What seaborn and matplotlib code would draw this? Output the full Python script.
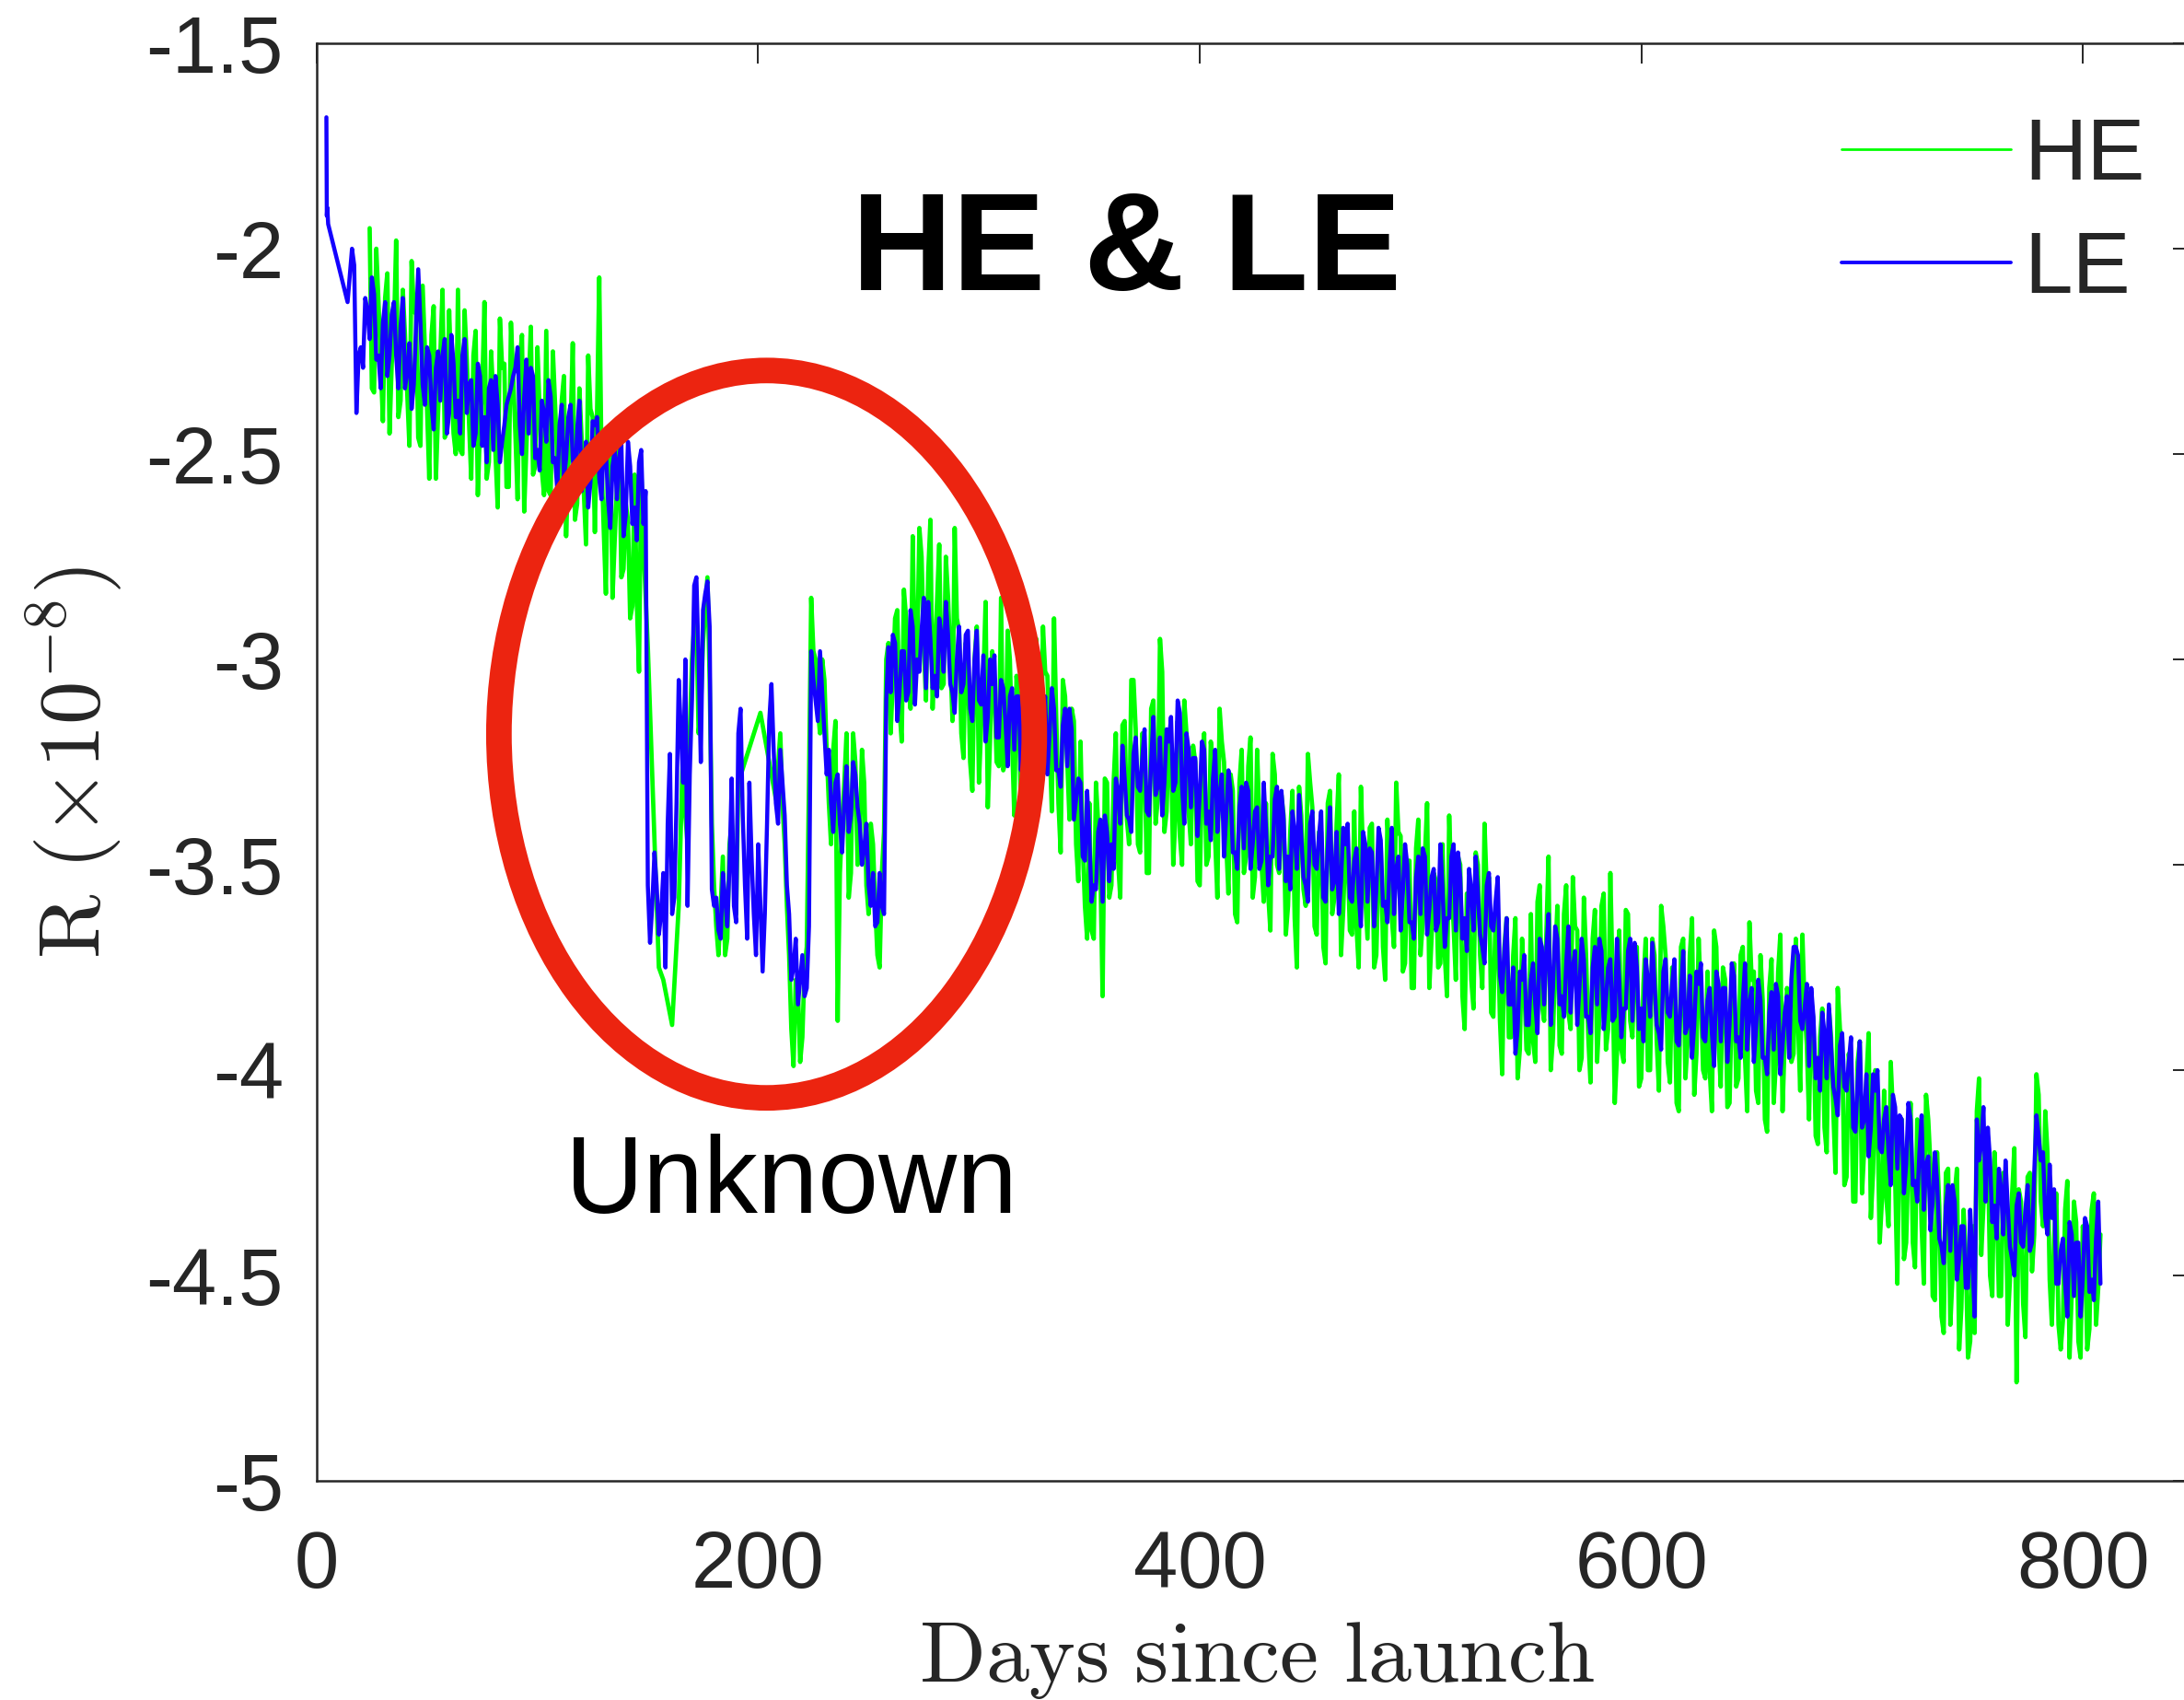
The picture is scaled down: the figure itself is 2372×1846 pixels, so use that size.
import numpy as np
import matplotlib.pyplot as plt
import seaborn as sns
from matplotlib.patches import Ellipse

# R values are written as positive hundredths of 1e-8 (215 -> -2.15)

# LE: a few points right after launch, then daily values from day 16
le_first_days = [4.4, 4.6, 4.8, 5.2, 14]
le_first_vals = [168, 192, 190, 194, 213]
le_even_start = 16   # days 16, 18, ..., 808
le_even = [
    200, 240, 224, 212, 222, 211, 226, 218, 231, 216,   # 16
    226, 219, 234, 223, 233, 205, 233, 224, 238, 229,   # 36
    237, 222, 240, 228, 237, 226, 240, 232, 245, 231,   # 56
    241, 234, 249, 238, 247, 238, 234, 229, 243, 236,   # 76
    245, 231, 249, 237, 247, 236, 251, 243, 256, 241,   # 96
    251, 244, 259, 247, 257, 243, 256, 247, 261, 253,   # 116
    261, 247, 265, 253, 263, 252, 267, 355, 360, 355,   # 136
    362, 375, 323, 358, 305, 330, 360, 310, 280, 325,   # 156
    284, 292, 360, 366, 352, 365, 329, 364, 312, 355,   # 176
    330, 362, 345, 376, 340, 306, 335, 322, 338, 362,   # 196
    375, 384, 372, 380, 298, 310, 298, 318, 322, 342,   # 216
    328, 347, 326, 338, 328, 340, 346, 355, 352, 364,   # 236
    360, 310, 308, 296, 308, 298, 308, 292, 300, 293,   # 256
    307, 295, 304, 290, 303, 294, 308, 300, 308, 294,   # 276
    312, 300, 310, 299, 314, 306, 319, 305, 315, 309,   # 296
    322, 309, 318, 306, 320, 311, 324, 309, 318, 312,   # 316
    327, 316, 326, 317, 334, 330, 349, 343, 355, 342,   # 336
    359, 342, 345, 329, 340, 329, 339, 323, 331, 324,   # 356
    337, 325, 333, 319, 330, 320, 332, 310, 331, 318,   # 376
    336, 324, 333, 322, 337, 329, 342, 328, 338, 332,   # 396
    347, 336, 346, 332, 345, 336, 349, 341, 348, 334,   # 416
    351, 339, 348, 337, 351, 343, 355, 340, 350, 343,   # 436
    358, 346, 356, 342, 354, 345, 358, 349, 357, 342,   # 456
    359, 347, 356, 344, 359, 350, 362, 348, 357, 350,   # 476
    364, 353, 362, 348, 361, 351, 364, 356, 363, 348,   # 496
    366, 353, 363, 351, 366, 357, 370, 355, 365, 359,   # 516
    377, 371, 384, 375, 390, 378, 389, 378, 384, 368,   # 536
    384, 362, 380, 368, 382, 374, 386, 371, 380, 373,   # 556
    387, 375, 384, 371, 383, 373, 387, 378, 385, 371,   # 576
    388, 375, 385, 373, 387, 379, 391, 376, 386, 379,   # 596
    393, 381, 391, 377, 389, 379, 392, 383, 391, 376,   # 616
    393, 380, 389, 377, 392, 383, 395, 380, 390, 383,   # 636
    397, 386, 395, 382, 394, 382, 378, 370, 388, 385,   # 656
    399, 387, 397, 386, 402, 394, 407, 394, 404, 398,   # 676
    414, 403, 414, 401, 414, 405, 419, 412, 420, 406,   # 696
    424, 412, 423, 412, 427, 420, 434, 421, 432, 427,   # 716
    443, 433, 444, 432, 446, 438, 453, 446, 412, 418,   # 736
    432, 422, 433, 424, 440, 433, 446, 433, 442, 434,   # 756
    444, 425, 416, 420, 440, 436, 452, 444, 452, 437,   # 776
    455, 442, 451, 438, 451, 441, 452,                  # 796
]
le_odd_start = 17    # days 17, 19, ..., 807
le_odd = [
    204, 226, 229, 215, 207, 227, 234, 213, 226, 213,   # 17
    234, 212, 230, 239, 219, 218, 238, 226, 244, 225,   # 37
    226, 245, 221, 241, 245, 222, 233, 248, 228, 248,   # 57
    252, 232, 231, 252, 243, 236, 231, 224, 250, 227,   # 77
    229, 251, 254, 240, 232, 252, 259, 238, 251, 238,   # 97
    259, 237, 254, 263, 242, 241, 261, 249, 268, 249,   # 117
    251, 270, 247, 267, 271, 249, 259, 369, 347, 367,   # 137
    352, 340, 362, 335, 318, 300, 328, 282, 300, 288,   # 157
    281, 356, 358, 368, 358, 350, 360, 318, 338, 368,   # 177
    348, 372, 360, 362, 315, 322, 340, 330, 355, 378,   # 197
    368, 378, 382, 365, 305, 315, 308, 328, 335, 330,   # 217
    340, 335, 342, 325, 336, 350, 340, 360, 365, 352,   # 237
    362, 297, 294, 315, 298, 310, 288, 311, 303, 285,   # 257
    286, 307, 309, 294, 286, 306, 313, 292, 306, 293,   # 277
    315, 293, 311, 320, 300, 299, 319, 307, 326, 307,   # 297
    309, 327, 303, 323, 326, 303, 314, 328, 307, 327,   # 317
    331, 312, 312, 339, 329, 348, 332, 359, 356, 339,   # 337
    338, 354, 351, 332, 321, 338, 342, 319, 332, 317,   # 357
    338, 314, 331, 338, 317, 314, 330, 313, 340, 322,   # 377
    324, 343, 320, 340, 344, 322, 333, 348, 327, 347,   # 397
    351, 331, 330, 351, 337, 351, 330, 355, 348, 331,   # 417
    332, 354, 356, 342, 333, 353, 359, 337, 351, 337,   # 437
    359, 336, 354, 362, 341, 340, 359, 346, 365, 345,   # 457
    346, 365, 341, 360, 364, 341, 351, 366, 345, 364,   # 477
    368, 348, 346, 367, 353, 366, 345, 370, 363, 345,   # 497
    347, 368, 371, 356, 348, 367, 374, 352, 366, 353,   # 517
    381, 363, 384, 396, 376, 372, 389, 374, 391, 370,   # 537
    371, 389, 365, 384, 387, 365, 375, 389, 368, 387,   # 557
    391, 370, 368, 390, 375, 388, 368, 392, 385, 368,   # 577
    369, 390, 393, 378, 369, 389, 395, 373, 387, 373,   # 597
    394, 371, 389, 397, 376, 374, 393, 380, 399, 379,   # 617
    380, 398, 374, 393, 397, 374, 384, 398, 378, 397,   # 637
    401, 381, 379, 401, 386, 397, 370, 372, 390, 379,   # 657
    380, 402, 405, 391, 384, 404, 411, 391, 405, 392,   # 677
    415, 393, 412, 421, 401, 400, 420, 409, 428, 409,   # 697
    411, 430, 408, 428, 432, 411, 423, 439, 420, 441,   # 717
    447, 428, 428, 451, 438, 453, 434, 460, 422, 409,   # 737
    414, 437, 441, 429, 422, 443, 450, 430, 443, 428,   # 757
    442, 411, 422, 436, 423, 429, 452, 441, 460, 440,   # 777
    442, 460, 436, 454, 456, 432,                       # 797
]

# HE: daily values, with two sparse stretches inside the "Unknown" period
he_early_even_start = 24   # 24 ... 148
he_early_even = [
    195, 235, 213, 242, 206, 228, 198, 237, 221, 248,   # 24
    215, 246, 209, 239, 221, 256, 226, 246, 215, 245,   # 44
    210, 250, 227, 256, 220, 243, 213, 252, 236, 263,   # 64
    229, 258, 218, 245, 227, 264, 234, 255, 224, 254,   # 84
    220, 260, 238, 267, 231, 253, 223, 262, 246, 272,   # 104
    239, 269, 207, 268, 250, 285, 258, 280, 262, 290,   # 124
    255, 303, 272,                                      # 144
]
he_early_odd_start = 25    # 25 ... 147
he_early_odd = [
    234, 200, 228, 212, 245, 220, 241, 210, 235, 203,   # 25
    216, 248, 224, 256, 214, 240, 210, 244, 231, 250,   # 45
    249, 215, 242, 226, 260, 234, 256, 225, 250, 217,   # 65
    228, 258, 231, 261, 221, 248, 219, 253, 240, 260,   # 85
    259, 225, 252, 237, 270, 244, 266, 234, 259, 226,   # 105
    241, 240, 251, 284, 244, 271, 243, 278, 266, 287,   # 125
    286, 254,                                           # 145
]
he_gap1_days = [150, 155, 157, 161, 164]
he_gap1_vals = [297, 375, 378, 389, 360]
he_mid_even_start = 166    # 166 ... 188
he_mid_even = [320, 345, 300, 290, 312, 288, 305, 355, 372, 348, 368, 340]
he_mid_odd_start = 167     # 167 ... 187
he_mid_odd = [338, 318, 292, 318, 296, 280, 340, 365, 360, 372, 345]
he_gap2_days = [190, 191, 201, 208]
he_gap2_vals = [362, 330, 313, 334]
he_late_even_start = 210   # 210 ... 808
he_late_even = [
    318, 345, 372, 399, 380, 392, 370, 285, 300, 318,   # 210
    305, 335, 322, 388, 340, 318, 352, 325, 345, 330,   # 230
    362, 345, 372, 352, 300, 318, 290, 312, 283, 305,   # 250
    270, 300, 275, 310, 266, 298, 272, 306, 285, 315,   # 270
    290, 318, 296, 325, 300, 330, 305, 336, 298, 325,   # 290
    285, 325, 300, 338, 310, 328, 300, 325, 295, 330,   # 310
    303, 320, 290, 335, 305, 325, 312, 345, 320, 360,   # 330
    335, 368, 340, 382, 330, 355, 318, 358, 315, 345,   # 350
    305, 345, 318, 352, 312, 340, 295, 342, 318, 350,   # 370
    315, 350, 318, 345, 325, 355, 318, 348, 325, 358,   # 390
    320, 345, 328, 362, 330, 352, 326, 358, 322, 350,   # 410
    335, 366, 328, 352, 338, 360, 332, 375, 338, 360,   # 430
    330, 365, 342, 370, 335, 362, 340, 372, 345, 366,   # 450
    337, 375, 348, 368, 340, 372, 345, 378, 350, 370,   # 470
    342, 376, 352, 380, 346, 372, 348, 380, 352, 375,   # 490
    345, 382, 355, 378, 350, 390, 358, 385, 350, 380,   # 510
    356, 386, 362, 388, 370, 392, 372, 402, 368, 395,   # 530
    362, 398, 355, 388, 348, 392, 360, 396, 355, 390,   # 550
    365, 400, 358, 392, 368, 398, 360, 395, 352, 408,   # 570
    366, 398, 362, 392, 370, 402, 368, 400, 372, 405,   # 590
    365, 398, 375, 408, 370, 402, 372, 406, 368, 400,   # 610
    376, 410, 370, 404, 378, 408, 374, 402, 370, 410,   # 630
    378, 405, 372, 412, 380, 408, 376, 410, 380, 398,   # 650
    368, 405, 385, 412, 388, 418, 385, 420, 392, 425,   # 670
    390, 428, 396, 432, 398, 430, 402, 436, 400, 442,   # 690
    405, 438, 410, 452, 412, 442, 408, 448, 415, 452,   # 710
    412, 455, 420, 460, 425, 462, 430, 468, 434, 470,   # 730
    438, 410, 445, 415, 450, 420, 455, 425, 462, 430,   # 750
    476, 432, 465, 425, 440, 406, 438, 420, 462, 430,   # 770
    468, 434, 470, 432, 466, 438, 468, 434, 462, 440,   # 790
]
he_late_odd_start = 211    # 211 ... 807
he_late_odd = [
    335, 360, 390, 378, 398, 375, 330, 298, 312, 300,   # 211
    322, 345, 315, 352, 330, 358, 318, 350, 322, 355,   # 231
    340, 360, 375, 342, 296, 305, 288, 320, 290, 312,   # 251
    304, 268, 296, 279, 312, 286, 307, 275, 299, 268,   # 271
    293, 324, 300, 332, 292, 316, 286, 320, 308, 326,   # 291
    327, 293, 320, 304, 337, 311, 332, 300, 324, 292,   # 311
    304, 337, 314, 347, 309, 339, 315, 354, 345, 368,   # 331
    366, 330, 351, 329, 358, 330, 349, 316, 339, 305,   # 351
    317, 347, 322, 352, 310, 334, 303, 337, 323, 338,   # 371
    343, 310, 337, 321, 354, 329, 350, 320, 344, 312,   # 391
    325, 357, 332, 364, 322, 348, 319, 353, 339, 359,   # 411
    357, 323, 350, 333, 367, 342, 363, 331, 356, 323,   # 431
    336, 367, 342, 374, 332, 358, 328, 361, 347, 367,   # 451
    365, 331, 358, 341, 375, 350, 370, 339, 363, 330,   # 471
    343, 374, 349, 380, 339, 364, 335, 368, 354, 374,   # 491
    372, 338, 365, 348, 382, 357, 378, 347, 372, 340,   # 511
    353, 387, 365, 401, 363, 392, 363, 395, 379, 396,   # 531
    393, 359, 384, 367, 400, 373, 394, 362, 386, 353,   # 551
    366, 397, 372, 403, 361, 387, 357, 390, 377, 396,   # 571
    395, 361, 388, 371, 404, 379, 400, 368, 393, 360,   # 591
    372, 403, 378, 410, 368, 393, 363, 396, 382, 402,   # 611
    400, 366, 393, 375, 409, 383, 404, 372, 397, 364,   # 631
    376, 408, 383, 415, 373, 398, 367, 392, 383, 396,   # 651
    388, 367, 394, 383, 416, 392, 414, 385, 410, 380,   # 671
    393, 426, 402, 432, 393, 419, 391, 425, 412, 432,   # 691
    431, 398, 426, 412, 446, 421, 442, 412, 438, 406,   # 711
    423, 456, 433, 464, 424, 450, 424, 458, 445, 466,   # 731
    464, 402, 433, 419, 455, 432, 455, 425, 451, 419,   # 751
    429, 457, 426, 449, 401, 432, 410, 451, 441, 462,   # 771
    461, 427, 454, 437, 470, 443, 463, 430, 453,        # 791
]

xtick_vals = [0, 200, 400, 600, 800]
ytick_vals = [-5, -4.5, -4, -3.5, -3, -2.5, -2, -1.5]
ytick_labels = ["-5", "-4.5", "-4", "-3.5", "-3", "-2.5", "-2", "-1.5"]


def every_other_day(start, vals):
    return start + 2 * np.arange(len(vals))


def merge(parts):
    # parts: list of (days, hundredths) -> sorted days, R values
    days = np.concatenate([np.asarray(d, dtype=float) for d, _ in parts])
    vals = np.concatenate([np.asarray(v, dtype=float) for _, v in parts])
    order = np.argsort(days, kind='stable')
    return days[order], -vals[order] / 100.0


le_days, le_r = merge([
    (le_first_days, le_first_vals),
    (every_other_day(le_even_start, le_even), le_even),
    (every_other_day(le_odd_start, le_odd), le_odd),
])
he_days, he_r = merge([
    (every_other_day(he_early_even_start, he_early_even), he_early_even),
    (every_other_day(he_early_odd_start, he_early_odd), he_early_odd),
    (he_gap1_days, he_gap1_vals),
    (every_other_day(he_mid_even_start, he_mid_even), he_mid_even),
    (every_other_day(he_mid_odd_start, he_mid_odd), he_mid_odd),
    (he_gap2_days, he_gap2_vals),
    (every_other_day(he_late_even_start, he_late_even), he_late_even),
    (every_other_day(he_late_odd_start, he_late_odd), he_late_odd),
])

sns.set_style("white")
plt.rcParams['font.family'] = ['Liberation Sans', 'DejaVu Sans']
plt.rcParams['mathtext.fontset'] = 'cm'
plt.rcParams['axes.unicode_minus'] = False

fig = plt.figure(figsize=(23.72, 18.46), dpi=100)
ax = fig.add_axes([0.1450, 0.1289, 0.8592, 0.8456])

sns.lineplot(x=he_days, y=he_r, ax=ax, color='#00ff00', linewidth=3.4,
             estimator=None, sort=False, label='HE')
sns.lineplot(x=le_days, y=le_r, ax=ax, color='#1400ff', linewidth=3.2,
             estimator=None, sort=False, label='LE')

# red ring around the unexplained part
ax.add_patch(Ellipse((203.8, -3.182), 242.5, 1.771, fill=False,
                     edgecolor='#ec2410', linewidth=20, zorder=5))

ax.text(367, -2.10, "HE & LE", fontsize=109, fontweight='bold',
        ha='center', va='baseline', color='black', zorder=6)
ax.text(215, -4.348, "Unknown", fontsize=85, ha='center', va='baseline',
        color='black', zorder=6)

ax.set_xlim(0, 850)
ax.set_ylim(-5, -1.5)
ax.set_xticks(xtick_vals)
ax.set_xticklabels([str(v) for v in xtick_vals])
ax.set_yticks(ytick_vals)
ax.set_yticklabels(ytick_labels)

for side in ['top', 'bottom', 'left', 'right']:
    ax.spines[side].set_visible(True)
    ax.spines[side].set_color('#262626')
    ax.spines[side].set_linewidth(1.8)

ax.tick_params(axis='both', direction='in', length=16, width=1.4,
               colors='#262626', labelsize=62.5, top=True, right=True)
ax.tick_params(axis='x', pad=38)
ax.tick_params(axis='y', pad=26)

ax.set_xlabel(r'$\mathrm{Days\ since\ launch}$', fontsize=68, color='#262626')
ax.set_ylabel(r'$\mathrm{R}\ (\times 10^{-8})$', fontsize=68, color='#262626')
ax.xaxis.set_label_coords(1365 / 2372, 20 / 1846, transform=fig.transFigure)
ax.xaxis.label.set_va('baseline')
ax.yaxis.set_label_coords(80 / 2372, 1 - 828 / 1846, transform=fig.transFigure)
ax.yaxis.label.set_va('center')

handles, labels = ax.get_legend_handles_labels()
leg = ax.legend(handles, labels, loc='upper left',
                bbox_to_anchor=(2000 / 2372, 1 - 126 / 1846),
                bbox_transform=fig.transFigure, frameon=False, fontsize=68,
                handlelength=1.95, handletextpad=0.15, labelspacing=0.36,
                borderpad=0, borderaxespad=0)
for line, lw in zip(leg.get_lines(), [2.0, 2.8]):
    line.set_linewidth(lw)

plt.savefig('out.png', dpi=100)
plt.close()
